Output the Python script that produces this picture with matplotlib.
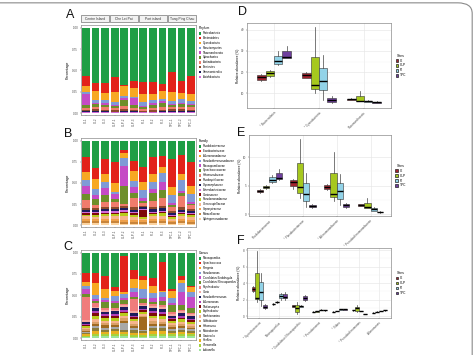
import numpy as np
import matplotlib
matplotlib.use("Agg")
import matplotlib.pyplot as plt
from matplotlib.patches import Rectangle, FancyBboxPatch, Patch

plt.rcParams['font.family'] = ['Liberation Sans', 'DejaVu Sans']

# ---- data ----
samples = ["CI-1", "CI-2", "CI-3", "CLP-1", "CLP-2", "CLP-3",
           "PI-1", "PI-2", "PI-3", "TPC-1", "TPC-2", "TPC-3"]
islands = ["Centre Island", "Che Lei Pai", "Port island", "Tung Ping Chau"]
sites = ["CI", "CLP", "PI", "TPC"]

phyla = ["Proteobacteria", "Bacteroidetes", "Cyanobacteria", "Planctomycetes",
         "Thaumarchaeota", "Spirochaetes", "Actinobacteria", "Firmicutes",
         "Verrucomicrobia", "Acidobacteria"]
phylumValues = [
    [0.57, 0.645, 0.645, 0.58, 0.67, 0.63, 0.63, 0.64, 0.66, 0.52, 0.62, 0.57],
    [0.115, 0.095, 0.115, 0.17, 0.015, 0.08, 0.145, 0.13, 0.085, 0.235, 0.14, 0.21],
    [0.07, 0.105, 0.09, 0.115, 0.115, 0.10, 0.095, 0.075, 0.085, 0.10, 0.07, 0.075],
    [0.02, 0.03, 0.03, 0.04, 0.02, 0.02, 0.04, 0.03, 0.03, 0.035, 0.045, 0.035],
    [0.13, 0.02, 0.02, 0.015, 0.02, 0.08, 0.015, 0.025, 0.02, 0.015, 0.02, 0.015],
    [0.03, 0.03, 0.03, 0.02, 0.08, 0.03, 0.02, 0.035, 0.05, 0.02, 0.03, 0.025],
    [0.025, 0.03, 0.03, 0.025, 0.035, 0.025, 0.025, 0.03, 0.03, 0.03, 0.03, 0.03],
    [0.015, 0.02, 0.015, 0.015, 0.02, 0.015, 0.015, 0.015, 0.015, 0.02, 0.02, 0.015],
    [0.01, 0.01, 0.01, 0.01, 0.01, 0.01, 0.005, 0.01, 0.01, 0.015, 0.01, 0.01],
    [0.015, 0.015, 0.015, 0.01, 0.015, 0.014, 0.01, 0.01, 0.015, 0.01, 0.015, 0.015],
]

families = ["Rhodobacteraceae", "Flavobacteriaceae", "Alteromonadaceae",
            "Pseudoalteromonadaceae", "Nitrosopumilaceae", "Synechococcaceae",
            "Halomonadaceae", "Rhodospirillaceae", "Cryomorphaceae",
            "Enterobacteriaceae", "Vibrionaceae", "Pseudomonadaceae",
            "Oceanospirillaceae", "Saprospiraceae", "Moraxellaceae",
            "Sphingomonadaceae"]
familyValues = [
    [0.19, 0.32, 0.22, 0.25, 0.115, 0.24, 0.31, 0.20, 0.18, 0.22, 0.17, 0.25],
    [0.18, 0.135, 0.17, 0.255, 0.03, 0.125, 0.18, 0.20, 0.13, 0.33, 0.22, 0.29],
    [0.09, 0.115, 0.10, 0.10, 0.065, 0.115, 0.095, 0.09, 0.07, 0.09, 0.07, 0.09],
    [0.075, 0.07, 0.075, 0.03, 0.09, 0.07, 0.095, 0.085, 0.105, 0.10, 0.135, 0.095],
    [0.09, 0.055, 0.075, 0.055, 0.235, 0.065, 0.03, 0.04, 0.10, 0.02, 0.02, 0.02],
    [0.075, 0.07, 0.09, 0.04, 0.21, 0.06, 0.03, 0.095, 0.095, 0.02, 0.04, 0.02],
    [0.095, 0.03, 0.055, 0.055, 0.03, 0.115, 0.03, 0.075, 0.095, 0.05, 0.135, 0.04],
    [0.025, 0.03, 0.025, 0.025, 0.02, 0.025, 0.02, 0.025, 0.025, 0.02, 0.025, 0.025],
    [0.025, 0.02, 0.025, 0.02, 0.03, 0.03, 0.02, 0.03, 0.03, 0.025, 0.03, 0.02],
    [0.015, 0.015, 0.02, 0.02, 0.02, 0.015, 0.01, 0.015, 0.015, 0.01, 0.015, 0.015],
    [0.015, 0.015, 0.015, 0.02, 0.015, 0.015, 0.08, 0.015, 0.015, 0.015, 0.01, 0.015],
    [0.02, 0.025, 0.025, 0.02, 0.03, 0.025, 0.02, 0.025, 0.03, 0.02, 0.025, 0.025],
    [0.035, 0.03, 0.035, 0.04, 0.045, 0.035, 0.02, 0.035, 0.035, 0.025, 0.035, 0.03],
    [0.025, 0.025, 0.025, 0.025, 0.025, 0.025, 0.02, 0.025, 0.03, 0.02, 0.025, 0.025],
    [0.02, 0.02, 0.02, 0.02, 0.02, 0.02, 0.02, 0.02, 0.02, 0.015, 0.02, 0.02],
    [0.025, 0.025, 0.025, 0.025, 0.02, 0.02, 0.02, 0.025, 0.025, 0.02, 0.025, 0.02],
]

genera = ["Nitrosopumilus", "Synechococcus", "Ruegeria", "Pseudomonas",
          "Candidatus Endobugula", "Candidatus Nitrosopumilus", "Psychrobacter",
          "Vibrio", "Pseudoalteromonas", "Alteromonas", "Thalassospira",
          "Erythrobacter", "Planktomarina", "Sulfitobacter", "Halomonas",
          "Marinobacter", "Glaciecola", "Hoeflea", "Shewanella", "Loktanella"]
genusValues = [
    [0.235, 0.235, 0.27, 0.40, 0.045, 0.195, 0.265, 0.30, 0.115, 0.42, 0.27, 0.385],
    [0.11, 0.12, 0.15, 0.05, 0.415, 0.11, 0.045, 0.095, 0.33, 0.03, 0.045, 0.02],
    [0.04, 0.145, 0.105, 0.055, 0.02, 0.095, 0.11, 0.08, 0.02, 0.075, 0.04, 0.055],
    [0.045, 0.045, 0.03, 0.06, 0.055, 0.055, 0.095, 0.055, 0.055, 0.065, 0.105, 0.055],
    [0.05, 0.02, 0.025, 0.025, 0.02, 0.055, 0.02, 0.045, 0.04, 0.02, 0.15, 0.13],
    [0.04, 0.025, 0.07, 0.055, 0.04, 0.025, 0.04, 0.03, 0.055, 0.085, 0.055, 0.055],
    [0.265, 0.04, 0.02, 0.02, 0.02, 0.135, 0.02, 0.02, 0.02, 0.02, 0.02, 0.02],
    [0.02, 0.02, 0.02, 0.02, 0.02, 0.02, 0.02, 0.02, 0.02, 0.02, 0.02, 0.02],
    [0.025, 0.03, 0.03, 0.03, 0.035, 0.03, 0.025, 0.035, 0.035, 0.025, 0.03, 0.03],
    [0.015, 0.03, 0.02, 0.025, 0.02, 0.02, 0.02, 0.03, 0.03, 0.02, 0.025, 0.02],
    [0.015, 0.025, 0.025, 0.025, 0.02, 0.02, 0.02, 0.025, 0.025, 0.02, 0.02, 0.02],
    [0.015, 0.04, 0.03, 0.03, 0.025, 0.025, 0.02, 0.03, 0.03, 0.025, 0.025, 0.02],
    [0.02, 0.035, 0.03, 0.03, 0.03, 0.03, 0.02, 0.035, 0.03, 0.025, 0.025, 0.025],
    [0.015, 0.025, 0.025, 0.025, 0.03, 0.025, 0.02, 0.03, 0.025, 0.02, 0.025, 0.02],
    [0.015, 0.025, 0.025, 0.02, 0.025, 0.02, 0.14, 0.025, 0.025, 0.02, 0.02, 0.02],
    [0.015, 0.025, 0.025, 0.025, 0.08, 0.03, 0.02, 0.03, 0.03, 0.025, 0.025, 0.02],
    [0.015, 0.03, 0.025, 0.025, 0.03, 0.025, 0.02, 0.03, 0.03, 0.02, 0.025, 0.02],
    [0.015, 0.03, 0.025, 0.025, 0.025, 0.025, 0.02, 0.03, 0.03, 0.02, 0.025, 0.02],
    [0.015, 0.025, 0.025, 0.025, 0.02, 0.02, 0.02, 0.025, 0.025, 0.02, 0.025, 0.02],
    [0.015, 0.03, 0.025, 0.03, 0.025, 0.02, 0.02, 0.03, 0.03, 0.025, 0.025, 0.025],
]

palette = ["#1f9e45", "#e2231a", "#f7a823", "#7f9ad6", "#c54ac5", "#6e8f2a",
           "#f07c6c", "#8b4a2b", "#1c1c5c", "#d36ad8", "#7d0a0a", "#b8cc1c",
           "#f6b48c", "#eea04a", "#c8843a", "#fbd3a0"]
genusPalette = ["#1f9e45", "#e2231a", "#f7a823", "#7f9ad6", "#c54ac5", "#6e8f2a",
                "#f07c7c", "#f4a6a0", "#1c1c5c", "#b040b8", "#7d0a0a", "#b8cc1c",
                "#f6b48c", "#d9a066", "#a06a20", "#a8a8a8", "#8b7d3a", "#e8b020",
                "#a6d23c", "#9be39b"]

# boxplot stats: whislo, q1, med, q3, whishi per category
dLabels = ["* Bacteroidetes", "* Cyanobacteria", "Thaumarchaeota"]
dStats = {
    "CI":  [[15.7, 16.2, 17.4, 18.6, 19.0], [17.0, 17.1, 18.6, 19.5, 20.0], [6.6, 6.8, 7.1, 7.4, 7.6]],
    "CLP": [[17.5, 18.1, 19.5, 20.6, 21.0], [10.0, 11.9, 13.8, 27.1, 41.4], [6.0, 6.2, 6.4, 8.6, 11.0]],
    "PI":  [[23.3, 23.8, 25.2, 27.6, 30.0], [6.7, 11.4, 15.7, 22.0, 28.1], [5.6, 5.8, 6.0, 6.3, 6.5]],
    "TPC": [[26.5, 26.7, 27.1, 29.8, 32.4], [5.4, 5.7, 6.7, 7.6, 8.6], [5.4, 5.5, 5.7, 5.9, 6.0]],
}
eLabels = ["Rhodobacteraceae", "* Flavobacteriaceae", "* Alteromonadaceae",
           "* Pseudoalteromonadaceae"]
eStats = {
    "CI":  [[3.7, 3.9, 4.0, 4.2, 4.4], [4.4, 4.9, 5.6, 6.0, 6.1], [4.3, 4.4, 4.7, 5.1, 5.2], [1.4, 1.5, 1.6, 1.7, 1.8]],
    "CLP": [[4.4, 4.6, 4.7, 4.9, 5.1], [2.8, 3.7, 4.7, 8.9, 13.2], [2.3, 3.0, 3.5, 7.2, 10.9], [1.0, 1.1, 1.2, 1.9, 2.8]],
    "PI":  [[5.4, 5.6, 6.0, 6.5, 6.8], [1.2, 2.3, 3.5, 5.4, 7.2], [1.6, 2.6, 4.0, 5.4, 7.0], [0.5, 0.6, 0.9, 1.1, 1.3]],
    "TPC": [[6.0, 6.1, 6.3, 7.2, 7.9], [1.1, 1.2, 1.4, 1.6, 1.7], [1.1, 1.2, 1.6, 1.8, 1.9], [0.25, 0.3, 0.35, 0.4, 0.45]],
}
fLabels = ["* Synechococcus", "Nitrosopumilus", "* Candidatus Nitrosopumilus",
           "* Pseudomonas", "* Vibrio", "* Pseudoalteromonas", "Alteromonas"]
fStats = {
    "CI":  [[2.9, 3.0, 3.3, 3.5, 3.6], [1.35, 1.4, 1.45, 1.5, 1.55], [1.1, 1.15, 1.2, 1.3, 1.35],
            [0.45, 0.47, 0.5, 0.52, 0.55], [0.45, 0.48, 0.5, 0.53, 0.55], [0.65, 0.68, 0.7, 0.72, 0.75],
            [0.35, 0.38, 0.4, 0.42, 0.45]],
    "CLP": [[1.7, 2.1, 2.2, 5.2, 7.9], [1.6, 1.65, 1.7, 1.75, 1.8], [0.25, 0.5, 1.0, 1.3, 1.7],
            [0.5, 0.52, 0.55, 0.58, 0.6], [0.55, 0.58, 0.6, 0.62, 0.65], [0.5, 0.6, 1.0, 1.1, 1.35],
            [0.45, 0.48, 0.5, 0.52, 0.55]],
    "PI":  [[1.2, 1.9, 2.9, 4.1, 5.2], [2.0, 2.2, 2.4, 2.7, 2.8], [1.1, 1.15, 1.2, 1.25, 1.3],
            [0.7, 0.72, 0.75, 0.78, 0.8], [0.75, 0.78, 0.8, 0.82, 0.85], [0.55, 0.58, 0.6, 0.62, 0.65],
            [0.55, 0.58, 0.6, 0.62, 0.65]],
    "TPC": [[0.9, 1.0, 1.15, 1.3, 1.4], [2.0, 2.15, 2.3, 2.7, 2.9], [1.8, 1.9, 2.2, 2.4, 2.5],
            [0.65, 0.68, 0.7, 0.72, 0.75], [0.75, 0.78, 0.8, 0.82, 0.85], [0.2, 0.22, 0.25, 0.28, 0.3],
            [0.65, 0.68, 0.7, 0.72, 0.75]],
}
siteColors = ["#a3232f", "#a6c81e", "#92d3e8", "#6f3f9e"]

TICK = 2.2


def styleSpines(ax):
    for s in ax.spines.values():
        s.set_color("#8c8c8c")
        s.set_linewidth(0.5)
    ax.tick_params(length=1, width=0.3, pad=1, labelsize=TICK, colors="#4d4d4d")


def stackedPanel(ax, names, values, colors, title):
    x = np.arange(1, len(samples) + 1)
    vals = np.array(values, dtype=float)
    vals = vals / vals.sum(axis=0)
    bottom = np.zeros(len(samples))
    handles = []
    for i in range(len(names) - 1, -1, -1):
        b = ax.bar(x, vals[i], bottom=bottom, width=0.8, color=colors[i], linewidth=0)
        handles.append(b)
        bottom += vals[i]
    handles = handles[::-1]
    ax.set_xlim(0.45, len(samples) + 0.55)
    ax.set_ylim(-0.02, 1.03)
    ax.set_yticks([0, 0.25, 0.5, 0.75, 1.0])
    ax.set_yticklabels(["0.00", "0.25", "0.50", "0.75", "1.00"])
    ax.set_xticks(x)
    ax.set_xticklabels(samples, rotation=90)
    ax.set_ylabel("Percentage", fontsize=2.6, labelpad=2)
    styleSpines(ax)
    leg = ax.legend(handles, names, title=title, loc="upper left",
                    bbox_to_anchor=(1.01, 1.0), frameon=False, fontsize=2.0,
                    title_fontsize=2.4, handlelength=1.0, handleheight=1.0,
                    handletextpad=0.4, labelspacing=0.3, borderpad=0)
    leg._legend_box.align = "left"


def boxPanel(ax, labels, stats, ylim, yticks):
    offsets = [-0.28125, -0.09375, 0.09375, 0.28125]
    for s, site in enumerate(sites):
        st = [dict(whislo=v[0], q1=v[1], med=v[2], q3=v[3], whishi=v[4]) for v in stats[site]]
        pos = [c + 1 + offsets[s] for c in range(len(labels))]
        ax.bxp(st, positions=pos, widths=0.1875, patch_artist=True, showfliers=False,
               showcaps=False, manage_ticks=False,
               boxprops=dict(facecolor=siteColors[s], edgecolor="#333333", linewidth=0.4),
               medianprops=dict(color="black", linewidth=1.0),
               whiskerprops=dict(color="#444444", linewidth=0.5))
    ax.set_xlim(0.4, len(labels) + 0.6)
    ax.set_ylim(*ylim)
    ax.set_yticks(yticks)
    ax.set_xticks(np.arange(1, len(labels) + 1))
    ax.set_xticklabels(labels, rotation=45, ha="right", rotation_mode="anchor")
    ax.set_yticks([(yticks[i] + yticks[i + 1]) / 2 for i in range(len(yticks) - 1)], minor=True)
    ax.grid(True, which="major", color="#e6e6e6", linewidth=0.45)
    ax.grid(True, which="minor", axis="y", color="#f2f2f2", linewidth=0.3)
    ax.tick_params(which="minor", length=0)
    ax.set_axisbelow(True)
    ax.set_ylabel("Relative abundance (%)", fontsize=2.3, labelpad=1)
    styleSpines(ax)
    handles = [Patch(facecolor=c, edgecolor="#222222", linewidth=0.5) for c in siteColors]
    ax.legend(handles, sites, title="Sites", loc="center left", bbox_to_anchor=(1.02, 0.5),
              frameon=False, fontsize=2.3, title_fontsize=2.5, handlelength=0.9,
              handleheight=0.9, handletextpad=0.5, labelspacing=0.3, borderpad=0)


fig = plt.figure(figsize=(4.76, 3.55), dpi=100)

axA = fig.add_axes([0.170, 0.676, 0.242, 0.2535])
stackedPanel(axA, phyla, phylumValues, palette, "Phylum")
for g, name in enumerate(islands):
    axA.add_patch(Rectangle((g / 4 + 0.004, 1.035), 0.242, 0.075, transform=axA.transAxes,
                            facecolor="#f2f2f2", edgecolor="#555555", linewidth=0.4,
                            clip_on=False))
    axA.text(g / 4 + 0.125, 1.072, name, transform=axA.transAxes, ha="center",
             va="center", fontsize=2.4, color="#333333")

axB = fig.add_axes([0.170, 0.3606, 0.242, 0.2507])
stackedPanel(axB, families, familyValues, palette, "Family")

axC = fig.add_axes([0.170, 0.0423, 0.242, 0.2535])
stackedPanel(axC, genera, genusValues, genusPalette, "Genus")

axD = fig.add_axes([0.519, 0.6958, 0.3025, 0.2394])
boxPanel(axD, dLabels, dStats, (2.9, 43.3), [10, 20, 30, 40])

axE = fig.add_axes([0.523, 0.3915, 0.298, 0.228])
boxPanel(axE, eLabels, eStats, (-0.35, 13.9), [0, 5, 10])

axF = fig.add_axes([0.519, 0.1042, 0.3025, 0.197])
boxPanel(axF, fLabels, fStats, (-0.24, 8.24), [0, 2, 4, 6, 8])

for lab, x, y in [("A", 0.147, 0.958), ("B", 0.143, 0.623), ("C", 0.143, 0.304),
                  ("D", 0.510, 0.966), ("E", 0.506, 0.625), ("F", 0.506, 0.321)]:
    fig.text(x, y, lab, fontsize=9, ha="center", va="center", color="#111111")

fig.patches.append(FancyBboxPatch((-0.05, -0.1), 1.042, 1.092, boxstyle="round,pad=0,rounding_size=0.03",
                                  transform=fig.transFigure, fill=False, edgecolor="#8a8a8a",
                                  linewidth=0.8))

fig.savefig("out.png", dpi=100)
